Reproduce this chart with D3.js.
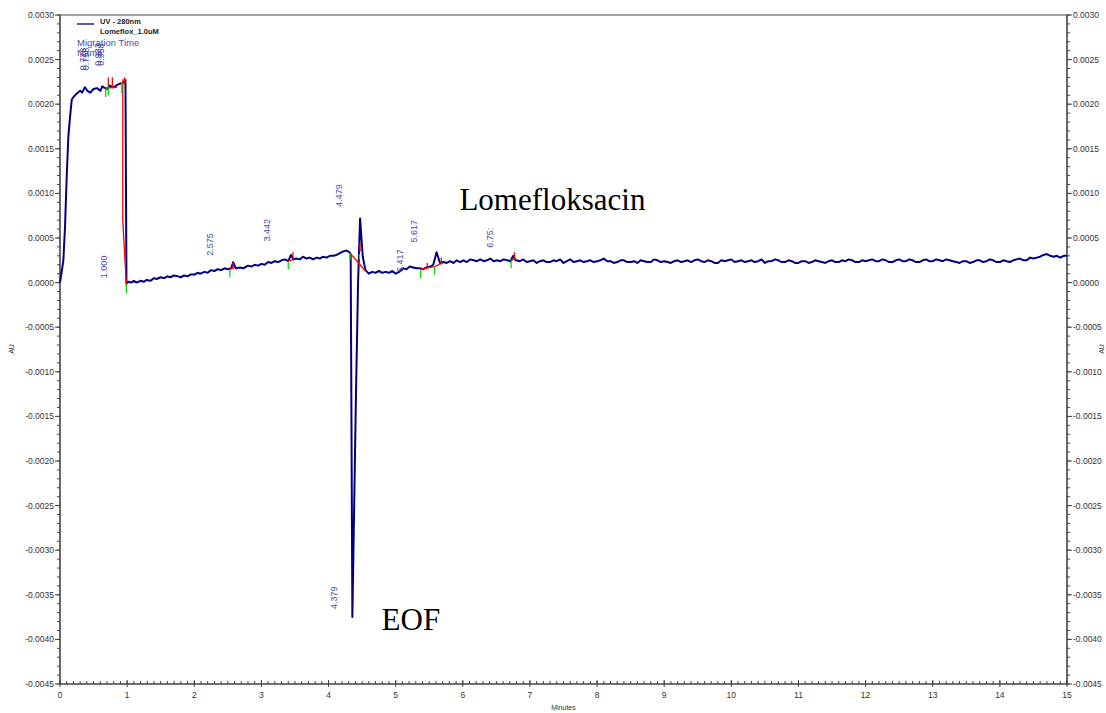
<!DOCTYPE html>
<html><head><meta charset="utf-8">
<script src="https://cdn.jsdelivr.net/npm/d3@7"></script>
<style>body{margin:0;background:#fff}svg{display:block}</style>
</head><body>
<svg id="c" width="1106" height="713"></svg>
<script>
// ---- data (time in minutes, absorbance in AU) ----
const yTickValues = [0.0030,0.0025,0.0020,0.0015,0.0010,0.0005,0.0000,-0.0005,-0.0010,-0.0015,-0.0020,-0.0025,-0.0030,-0.0035,-0.0040,-0.0045];
const yTickLabels = ["0.0030","0.0025","0.0020","0.0015","0.0010","0.0005","0.0000","-0.0005","-0.0010","-0.0015","-0.0020","-0.0025","-0.0030","-0.0035","-0.0040","-0.0045"];
const xTickValues = [0,1,2,3,4,5,6,7,8,9,10,11,12,13,14,15];
const xTickLabels = ["0","1","2","3","4","5","6","7","8","9","10","11","12","13","14","15"];

const trace = [
[0,0.0000],[0.025,0.00012],[0.05,0.00025],[0.075,0.00063],[0.1,0.00119],[0.125,0.00164],[0.15,0.00186],[0.175,0.00205],
[0.2,0.00208],[0.25,0.00212],[0.3,0.00215],[0.33,0.00213],[0.37,0.00219],[0.41,0.00215],[0.45,0.00213],[0.5,0.00217],
[0.55,0.00218],[0.6,0.00215],[0.63,0.0022],[0.67,0.00218],[0.7,0.00217],[0.745,0.00221],[0.78,0.00219],[0.82,0.0022],
[0.86,0.00222],[0.89,0.00223],[0.94,0.00224],[0.975,0.00227],[0.99,-0.00001],[1.02,0.00001],[1.06,0.0000],[1.1,0.00002],
[1.14,0.0],[1.2,0.00002],[1.25,0.00001],[1.29,0.00003],[1.35,0.00002],[1.4,0.00005],[1.44,0.00004],[1.5,0.00006],
[1.55,0.00005],[1.6,0.00007],[1.64,0.00006],[1.7,0.00008],[1.76,0.00007],[1.8,0.00006],[1.85,0.00008],[1.9,0.00007],
[1.94,0.00009],[2.0,0.00009],[2.05,0.00011],[2.09,0.0001],[2.15,0.00012],[2.2,0.00011],[2.25,0.00014],[2.3,0.00013],
[2.35,0.00015],[2.4,0.00014],[2.45,0.00016],[2.5,0.00015],[2.55,0.00016],[2.58,0.00023],[2.62,0.00016],[2.68,0.00017],
[2.73,0.00016],[2.8,0.00019],[2.85,0.00018],[2.9,0.0002],[2.95,0.00019],[3.0,0.00021],[3.05,0.0002],[3.1,0.00023],
[3.15,0.00022],[3.2,0.00024],[3.25,0.00023],[3.3,0.00025],[3.35,0.00026],[3.4,0.00024],[3.44,0.00031],[3.48,0.00026],
[3.52,0.00027],[3.57,0.00026],[3.62,0.00029],[3.67,0.00027],[3.72,0.00028],[3.77,0.00026],[3.82,0.00028],[3.87,0.00027],
[3.92,0.00029],[3.97,0.00028],[4.02,0.0003],[4.07,0.0003],[4.12,0.00031],[4.17,0.00033],[4.22,0.00035],[4.27,0.00036],
[4.31,0.00034],[4.33,0.00032],[4.355,-0.00375],[4.41,-0.0012],[4.44,0.0],[4.47,0.00072],[4.51,0.00029],[4.55,0.00014],
[4.6,0.0001],[4.65,0.00012],[4.7,0.00011],[4.75,0.00013],[4.8,0.00011],[4.85,0.00012],[4.9,0.00011],[4.95,0.00013],
[5.0,0.0001],[5.05,0.00012],[5.11,0.00016],[5.16,0.00015],[5.21,0.00018],[5.26,0.00017],[5.31,0.00016],[5.36,0.00016],
[5.41,0.00015],[5.46,0.00017],[5.52,0.00018],[5.56,0.0002],[5.61,0.00034],[5.66,0.00022],[5.71,0.00023],[5.76,0.00022],
[5.81,0.00024],[5.86,0.00022],[5.91,0.00025],[5.96,0.00023],[6.01,0.00025],[6.06,0.00023],[6.11,0.00026],[6.16,0.00025],
[6.21,0.00024],[6.26,0.00026],[6.31,0.00024],[6.36,0.00025],[6.41,0.00027],[6.46,0.00024],[6.51,0.00025],[6.56,0.00024],
[6.61,0.00026],[6.66,0.00025],[6.71,0.00024],[6.75,0.0003],[6.79,0.00025],[6.85,0.00024],[6.9,0.00026],[6.95,0.00023],
[7.00,0.00024],[7.05,0.00025],[7.10,0.00022],[7.15,0.00024],[7.20,0.00025],[7.25,0.00023],[7.30,0.00023],[7.35,0.00025],
[7.40,0.00024],[7.45,0.00026],[7.50,0.00022],[7.55,0.00024],[7.60,0.00026],[7.65,0.00023],[7.70,0.00024],[7.75,0.00025],
[7.80,0.00023],[7.85,0.00024],[7.90,0.00025],[7.95,0.00023],[8.00,0.00024],[8.05,0.00025],[8.10,0.00027],[8.15,0.00024],
[8.20,0.00024],[8.25,0.00022],[8.30,0.00023],[8.35,0.00025],[8.40,0.00025],[8.45,0.00023],[8.50,0.00023],[8.55,0.00024],
[8.60,0.00022],[8.65,0.00025],[8.70,0.00024],[8.75,0.00023],[8.80,0.00023],[8.85,0.00026],[8.90,0.00025],[8.95,0.00023],
[9.00,0.00024],[9.05,0.00023],[9.10,0.00022],[9.15,0.00024],[9.20,0.00025],[9.25,0.00023],[9.30,0.00024],[9.35,0.00025],
[9.40,0.00023],[9.45,0.00025],[9.50,0.00026],[9.55,0.00024],[9.60,0.00023],[9.65,0.00025],[9.70,0.00024],[9.75,0.00022],
[9.80,0.00022],[9.85,0.00025],[9.90,0.00024],[9.95,0.00025],[10.00,0.00026],[10.05,0.00023],[10.10,0.00024],[10.15,0.00025],
[10.20,0.00023],[10.25,0.00024],[10.30,0.00025],[10.35,0.00023],[10.40,0.00024],[10.45,0.00026],[10.50,0.00022],[10.55,0.00024],
[10.60,0.00024],[10.65,0.00026],[10.70,0.00025],[10.75,0.00023],[10.80,0.00023],[10.85,0.00025],[10.90,0.00024],[10.95,0.00022],
[11.00,0.00022],[11.05,0.00024],[11.10,0.00024],[11.15,0.00022],[11.20,0.00023],[11.25,0.00025],[11.30,0.00024],[11.35,0.00023],
[11.40,0.00022],[11.45,0.00024],[11.50,0.00025],[11.55,0.00023],[11.60,0.00023],[11.65,0.00025],[11.70,0.00024],[11.75,0.00026],
[11.80,0.00025],[11.85,0.00023],[11.90,0.00023],[11.95,0.00025],[12.00,0.00024],[12.05,0.00025],[12.10,0.00026],[12.15,0.00024],
[12.20,0.00024],[12.25,0.00026],[12.30,0.00025],[12.35,0.00023],[12.40,0.00023],[12.45,0.00025],[12.50,0.00026],[12.55,0.00024],
[12.60,0.00024],[12.65,0.00026],[12.70,0.00025],[12.75,0.00023],[12.80,0.00023],[12.85,0.00025],[12.90,0.00026],[12.95,0.00024],
[13.00,0.00024],[13.05,0.00026],[13.10,0.00025],[13.15,0.00024],[13.20,0.00026],[13.25,0.00025],[13.30,0.00024],[13.35,0.00023],
[13.40,0.00022],[13.45,0.00024],[13.50,0.00024],[13.55,0.00022],[13.60,0.00023],[13.65,0.00025],[13.70,0.00025],[13.75,0.00023],
[13.80,0.00024],[13.85,0.00026],[13.90,0.00025],[13.95,0.00023],[14.00,0.00023],[14.05,0.00025],[14.10,0.00024],[14.15,0.00023],
[14.20,0.00025],[14.25,0.00026],[14.30,0.00027],[14.35,0.00025],[14.40,0.00025],[14.45,0.00028],[14.50,0.00027],[14.55,0.00028],
[14.60,0.00029],[14.65,0.00031],[14.70,0.00032],[14.75,0.00030],[14.80,0.00029],[14.85,0.00030],[14.90,0.00028],[14.95,0.00030],
[15.00,0.0003]
];

// integration baselines (red): [t1, v1, t2, v2]
const redMarks = [
[0.68,0.00218,0.85,0.00219],[0.72,0.0022,0.72,0.0023],[0.78,0.00219,0.78,0.0023],
[0.935,0.00228,0.935,0.0007],[0.935,0.0007,0.99,-0.00005],[0.96,0.00222,0.96,0.0023],
[2.53,0.00015,2.62,0.00017],[2.58,0.00017,2.58,0.00024],
[3.4,0.00024,3.47,0.00026],[3.47,0.00026,3.47,0.00034],
[4.32,0.00033,4.55,0.00013],[4.47,0.00035,4.47,0.00045],
[5.37,0.00015,5.58,0.00018],[5.47,0.00016,5.47,0.00022],
[5.58,0.00018,5.7,0.00022],[5.68,0.00022,5.68,0.00028],
[6.72,0.00025,6.77,0.00026],[6.77,0.00026,6.77,0.00034]
];
// peak start/end ticks (green): [t, vTop, vBottom]
const greenMarks = [
[0.68,0.00218,0.00208],[0.72,0.0022,0.0021],[0.92,0.00225,0.00212],[0.99,-0.00002,-0.00012],
[2.53,0.00015,0.00006],[3.4,0.00024,0.00015],[4.32,0.00033,0.00025],[4.46,0.00032,0.00026],
[5.37,0.00015,0.00005],[5.58,0.00018,0.00009],[6.72,0.00025,0.00016]
];
// peak labels: [text, t (x position), v (bottom of text)]
const peakLabels = [
["0.728",0.34,0.00238],["0.758",0.39,0.00238],["0.933",0.56,0.00243],["0.958",0.61,0.00243],
["1.000",0.66,0.00005],["2.575",2.24,0.0003],["3.442",3.08,0.00046],["4.479",4.15,0.00085],
["5.417",5.06,0.00012],["5.617",5.27,0.00045],["6.75:",6.41,0.00039],["4.379",4.08,-0.00366]
];
const annotations = [["Lomefloksacin",5.95,0.00081],["EOF",4.79,-0.00390]];

// ---- layout ----
const L = 60, R = 1067, T = 15, B = 684;
const svg = d3.select("#c");
const x = d3.scaleLinear().domain([0,15]).range([L,R]);
const y = d3.scaleLinear().domain([-0.0045,0.0030]).range([B,T]);
const axisCol = "#444";
const fontSans = "Liberation Sans, Arial, sans-serif";

// frame top line
svg.append("line").attr("x1",L).attr("x2",R).attr("y1",T).attr("y2",T).attr("stroke",axisCol).attr("stroke-width",1.2);

// minor ticks
const yMinor = d3.range(-45,31).map(d=>d/10000);
const xMinor = d3.range(0,151).map(d=>d/10);

function yAxis(side){
  const g = svg.append("g");
  const xa = side==="left"?L:R, dir = side==="left"?-1:1;
  g.append("line").attr("x1",xa).attr("x2",xa).attr("y1",T).attr("y2",B).attr("stroke",axisCol).attr("stroke-width",1.6);
  g.selectAll(".mn").data(yMinor).enter().append("line")
    .attr("x1",xa).attr("x2",xa+dir*3).attr("y1",d=>y(d)).attr("y2",d=>y(d)).attr("stroke",axisCol).attr("stroke-width",1);
  g.selectAll(".mj").data(yTickValues).enter().append("line")
    .attr("x1",xa).attr("x2",xa+dir*5).attr("y1",d=>y(d)).attr("y2",d=>y(d)).attr("stroke",axisCol).attr("stroke-width",1);
  g.selectAll("text").data(yTickValues).enter().append("text")
    .attr("x",xa+dir*6).attr("y",d=>y(d)+3).attr("text-anchor",side==="left"?"end":"start")
    .attr("font-family",fontSans).attr("font-size",8.5).attr("fill","#333")
    .text((d,i)=>yTickLabels[i]);
}
yAxis("left"); yAxis("right");

// x axis
const gx = svg.append("g");
gx.append("line").attr("x1",L).attr("x2",R).attr("y1",B).attr("y2",B).attr("stroke",axisCol).attr("stroke-width",1.6);
gx.selectAll(".mn").data(xMinor).enter().append("line")
  .attr("x1",d=>x(d)).attr("x2",d=>x(d)).attr("y1",B).attr("y2",B-3).attr("stroke",axisCol).attr("stroke-width",1);
gx.selectAll(".mj").data(xTickValues).enter().append("line")
  .attr("x1",d=>x(d)).attr("x2",d=>x(d)).attr("y1",B+3).attr("y2",B-4).attr("stroke",axisCol).attr("stroke-width",1);
gx.selectAll("text").data(xTickValues).enter().append("text")
  .attr("x",d=>x(d)).attr("y",B+14).attr("text-anchor","middle")
  .attr("font-family",fontSans).attr("font-size",8.5).attr("fill","#333")
  .text((d,i)=>xTickLabels[i]);

// axis titles
svg.append("text").attr("x",(L+R)/2).attr("y",710).attr("text-anchor","middle")
  .attr("font-family",fontSans).attr("font-size",7).attr("fill","#333").text("Minutes");
svg.append("text").attr("transform","translate(14,349) rotate(-90)").attr("text-anchor","middle")
  .attr("font-family",fontSans).attr("font-size",7).attr("fill","#333").text("AU");
svg.append("text").attr("transform","translate(1104,349) rotate(-90)").attr("text-anchor","middle")
  .attr("font-family",fontSans).attr("font-size",7).attr("fill","#333").text("AU");

// trace
const line = d3.line().x(d=>x(d[0])).y(d=>y(d[1]));
svg.append("path").datum(trace).attr("d",line).attr("fill","none")
  .attr("stroke","#000080").attr("stroke-width",2).attr("stroke-linejoin","round");

// integration marks
svg.selectAll(".red").data(redMarks).enter().append("line")
  .attr("x1",d=>x(d[0])).attr("y1",d=>y(d[1])).attr("x2",d=>x(d[2])).attr("y2",d=>y(d[3]))
  .attr("stroke","#ff0000").attr("stroke-width",1.3);
svg.selectAll(".grn").data(greenMarks).enter().append("line")
  .attr("x1",d=>x(d[0])).attr("y1",d=>y(d[1])).attr("x2",d=>x(d[0])).attr("y2",d=>y(d[2]))
  .attr("stroke","#00dd00").attr("stroke-width",1.3);

// peak labels
svg.selectAll(".pl").data(peakLabels).enter().append("text")
  .attr("transform",d=>`translate(${x(d[1])+3},${y(d[2])}) rotate(-90)`)
  .attr("font-family",fontSans).attr("font-size",9).attr("fill","#4a4aa8")
  .text(d=>d[0]);

// legend
svg.append("line").attr("x1",77).attr("x2",94).attr("y1",24).attr("y2",24).attr("stroke","#000080").attr("stroke-width",1.3);
svg.append("text").attr("x",100).attr("y",24).attr("font-family",fontSans).attr("font-size",7.5).attr("font-weight","bold").attr("fill","#222").text("UV - 280nm");
svg.append("text").attr("x",100).attr("y",34).attr("font-family",fontSans).attr("font-size",7.5).attr("font-weight","bold").attr("fill","#222").text("Lomeflox_1.0uM");
svg.append("text").attr("x",77).attr("y",46).attr("font-family",fontSans).attr("font-size",9.5).attr("fill","#4a4aa8").text("Migration Time");
svg.append("text").attr("x",77).attr("y",56).attr("font-family",fontSans).attr("font-size",9.5).attr("fill","#4a4aa8").text("Name");

// annotations
svg.selectAll(".ann").data(annotations).enter().append("text")
  .attr("x",d=>x(d[1])).attr("y",d=>y(d[2]))
  .attr("font-family","Liberation Serif, Times New Roman, serif").attr("font-size",31).attr("fill","#000")
  .text(d=>d[0]);
</script>
</body></html>
